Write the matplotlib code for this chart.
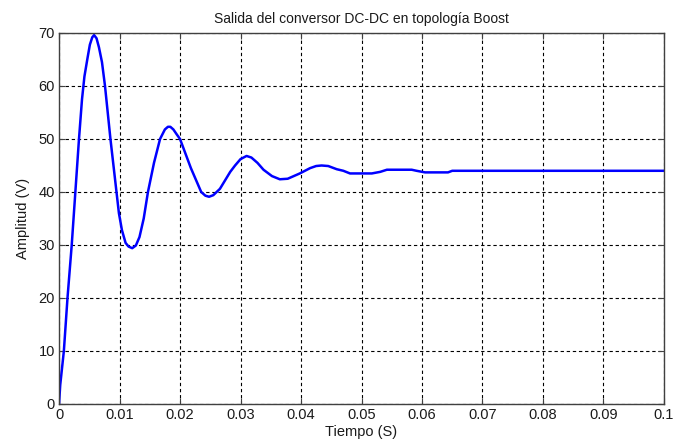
import matplotlib
matplotlib.use("Agg")
import matplotlib.pyplot as plt

# Boost converter output voltage, sampled from the transient simulation
tiempo = [0.0, 0.0002, 0.0008, 0.0014, 0.0021, 0.0027, 0.0033, 0.0038, 0.0042,
          0.0047, 0.0051, 0.0055, 0.0058, 0.0062, 0.0066, 0.0071, 0.0076, 0.0085,
          0.0090, 0.0095, 0.0099, 0.0104, 0.0110, 0.0115, 0.0121, 0.0127, 0.0133,
          0.0140, 0.0147, 0.0157, 0.0167, 0.0175, 0.0180, 0.0184, 0.0189, 0.0195,
          0.0200, 0.0218, 0.0235, 0.0242, 0.0248, 0.0255, 0.0266, 0.0283, 0.0291,
          0.0300, 0.0310, 0.0318, 0.0328, 0.0338, 0.0352, 0.0365, 0.0378, 0.0398,
          0.0415, 0.0425, 0.0434, 0.0445, 0.0459, 0.0470, 0.0481, 0.0517, 0.0531,
          0.0542, 0.0583, 0.0591, 0.0605, 0.0643, 0.0650, 0.1000]
amplitud = [0.0, 3.6, 10.0, 20.0, 30.0, 40.0, 50.0, 57.5, 61.8,
            65.2, 67.8, 69.2, 69.6, 69.0, 67.3, 64.5, 60.0, 50.0,
            45.0, 40.0, 36.0, 32.8, 30.4, 29.7, 29.4, 29.9, 31.5,
            35.0, 40.0, 45.5, 50.0, 51.8, 52.3, 52.3, 51.8, 50.8,
            50.0, 44.5, 40.0, 39.3, 39.1, 39.4, 40.6, 43.8, 45.0,
            46.2, 46.8, 46.5, 45.5, 44.2, 43.0, 42.4, 42.5, 43.5,
            44.5, 44.9, 45.0, 44.9, 44.3, 44.0, 43.5, 43.5, 43.8,
            44.2, 44.2, 44.0, 43.7, 43.7, 44.0, 44.0]

x_ticks = [0, 0.01, 0.02, 0.03, 0.04, 0.05, 0.06, 0.07, 0.08, 0.09, 0.1]
x_tick_labels = ["0", "0.01", "0.02", "0.03", "0.04", "0.05", "0.06",
                 "0.07", "0.08", "0.09", "0.1"]
y_ticks = [0, 10, 20, 30, 40, 50, 60, 70]

plt.rcParams["font.family"] = ["Liberation Sans", "DejaVu Sans"]

fig = plt.figure(figsize=(6.73, 4.47), dpi=100)
fig.patch.set_facecolor("white")
ax = fig.add_axes([0.0877, 0.0962, 0.8989, 0.830])

ax.plot(tiempo, amplitud, color="#0000ff", linewidth=1.8, solid_joinstyle="round")

ax.set_xlim(0, 0.1)
ax.set_ylim(0, 70)
ax.set_xticks(x_ticks)
ax.set_xticklabels(x_tick_labels)
ax.set_yticks(y_ticks)

ax.grid(True, color="black", linestyle=(0, (3, 2.5)), linewidth=0.8)
ax.set_axisbelow(True)

for side in ax.spines.values():
    side.set_color("#404040")
    side.set_linewidth(1.0)
ax.tick_params(direction="in", length=4, width=0.8, colors="#404040",
               top=True, right=True, labelsize=10.5, labelcolor="#1a1a1a", pad=3)

ax.set_title("Salida del conversor DC-DC en topología Boost", fontsize=10,
             color="#1a1a1a", pad=7)
ax.set_xlabel("Tiempo (S)", fontsize=10.5, color="#1a1a1a", labelpad=2)
ax.set_ylabel("Amplitud (V)", fontsize=10.5, color="#1a1a1a", labelpad=6)

fig.savefig("out.png", dpi=100, facecolor=fig.get_facecolor())
plt.close(fig)
